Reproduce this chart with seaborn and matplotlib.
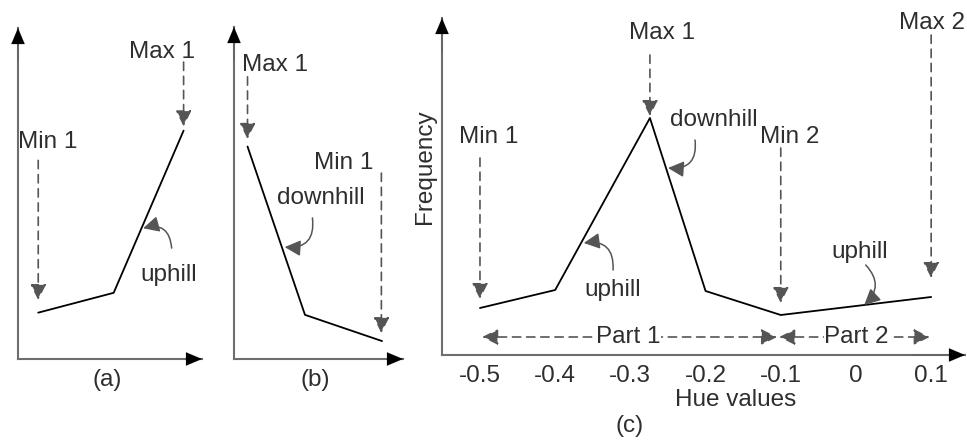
import matplotlib
matplotlib.use("Agg")
import matplotlib.pyplot as plt
import seaborn as sns
import pandas as pd

# ---------------- data ----------------
# panel (a): concave-up curve (uphill)
a_x = [1.1, 5.2, 9.0]
a_y = [1.4, 2.0, 6.9]
# panel (b): downhill curve
b_x = [0.8, 4.2, 8.76]
b_y = [6.4, 1.33, 0.54]
# panel (c): hue histogram sketch
hue_values = [-0.5, -0.4, -0.274, -0.2, -0.1, 0.1]
frequency = [4.7, 6.5, 23.7, 6.4, 4.0, 5.8]
c_ticks = [-0.5, -0.4, -0.3, -0.2, -0.1, 0.0, 0.1]
c_tick_labels = ["-0.5", "-0.4", "-0.3", "-0.2", "-0.1", "0", "0.1"]

sns.set_theme(style="white")
plt.rcParams["font.family"] = ["Liberation Sans", "DejaVu Sans"]
plt.rcParams["axes.unicode_minus"] = False

W, H = 967, 440
fig = plt.figure(figsize=(W / 100, H / 100), dpi=100)

TXT = "#2e2e2e"
AX_COL = "#6e6e6e"
DASH_COL = "#7a7a7a"
HEAD_COL = "#555555"
FS = 17.5


def px_axes(x0, x1, y_top, y_bot):
    return fig.add_axes([x0 / W, 1 - y_bot / H, (x1 - x0) / W, (y_bot - y_top) / H])


def style_axes(ax):
    for s in ["top", "right"]:
        ax.spines[s].set_visible(False)
    for s in ["left", "bottom"]:
        ax.spines[s].set_color(AX_COL)
        ax.spines[s].set_linewidth(1.5)
    ax.tick_params(length=0)
    hp = dict(arrowstyle="-|>,head_length=0.95,head_width=0.4", color="black",
              lw=0.1, shrinkA=0, shrinkB=0, mutation_scale=12)
    ax.annotate("", xy=(0, 1), xytext=(0, 0.9), xycoords="axes fraction",
                arrowprops=hp, annotation_clip=False)
    ax.annotate("", xy=(1, 0), xytext=(0.9, 0), xycoords="axes fraction",
                arrowprops=hp, annotation_clip=False)


def dashed_arrow(ax, x, y_from, y_to):
    ax.annotate("", xy=(x, y_to), xytext=(x, y_from),
                arrowprops=dict(arrowstyle="-|>,head_length=0.8,head_width=0.4",
                                color=DASH_COL, fc=HEAD_COL, ec=HEAD_COL, lw=1.2,
                                linestyle=(0, (5, 3.5)), shrinkA=0, shrinkB=0,
                                mutation_scale=12),
                annotation_clip=False)


def curved_arrow(ax, start, end, rad):
    ax.annotate("", xy=end, xytext=start,
                arrowprops=dict(arrowstyle="-|>,head_length=0.8,head_width=0.4",
                                color="#555555", lw=1.1, shrinkA=0, shrinkB=0,
                                mutation_scale=12,
                                connectionstyle=f"arc3,rad={rad}"),
                annotation_clip=False)


def label(ax, x, y, s):
    ax.text(x, y, s, fontsize=FS, color=TXT, ha="center", va="center")


# ---------------- panel (a) ----------------
ax_a = px_axes(18, 202, 28, 359)
style_axes(ax_a)
sns.lineplot(x=a_x, y=a_y, ax=ax_a, color="black", lw=1.3, sort=False)
ax_a.set_xlim(0, 10)
ax_a.set_ylim(0, 10)
ax_a.set_xticks([])
ax_a.set_yticks([])
label(ax_a, 1.6, 6.55, "Min 1")
dashed_arrow(ax_a, a_x[0], 6.0, 1.78)
label(ax_a, 7.85, 9.27, "Max 1")
dashed_arrow(ax_a, a_x[2], 8.97, 7.03)
label(ax_a, 8.2, 2.55, "uphill")
curved_arrow(ax_a, (8.35, 3.35), (6.8, 3.95), 0.6)
ax_a.set_xlabel("(a)", fontsize=FS, color=TXT)
ax_a.xaxis.set_label_coords(0.484, -0.063)
ax_a.xaxis.label.set_va("center")

# ---------------- panel (b) ----------------
ax_b = px_axes(234, 403, 27, 359)
style_axes(ax_b)
sns.lineplot(x=b_x, y=b_y, ax=ax_b, color="black", lw=1.3, sort=False)
ax_b.set_xlim(0, 10)
ax_b.set_ylim(0, 10)
ax_b.set_xticks([])
ax_b.set_yticks([])
label(ax_b, 2.43, 8.85, "Max 1")
dashed_arrow(ax_b, b_x[0], 8.5, 6.63)
label(ax_b, 6.5, 5.9, "Min 1")
dashed_arrow(ax_b, 8.72, 5.6, 0.78)
label(ax_b, 5.15, 4.85, "downhill")
curved_arrow(ax_b, (4.64, 4.25), (3.0, 3.37), -0.6)
ax_b.set_xlabel("(b)", fontsize=FS, color=TXT)
ax_b.xaxis.set_label_coords(0.479, -0.063)
ax_b.xaxis.label.set_va("center")

# ---------------- panel (c) ----------------
ax_c = px_axes(442, 965, 18, 355)
style_axes(ax_c)
df = pd.DataFrame({"Hue values": hue_values, "Frequency": frequency})
sns.lineplot(data=df, x="Hue values", y="Frequency", ax=ax_c, color="black",
             lw=1.3, sort=False)
ax_c.set_xlim(-0.5505, 0.1450)
ax_c.set_ylim(0, 33.7)
ax_c.set_yticks([])
ax_c.set_xticks(c_ticks)
ax_c.set_xticklabels(c_tick_labels, fontsize=FS, color=TXT)
ax_c.tick_params(axis="x", pad=7)
ax_c.set_xlabel("Hue values", fontsize=FS, color=TXT)
ax_c.xaxis.set_label_coords(0.562, -0.134)
ax_c.xaxis.label.set_va("center")
ax_c.set_ylabel("Frequency", fontsize=FS, color=TXT)
ax_c.yaxis.set_label_coords(-0.0325, 0.56)
ax_c.yaxis.label.set_va("center")
ax_c.text(0.359, -0.21, "(c)", transform=ax_c.transAxes, fontsize=FS,
          color=TXT, ha="center", va="center")

label(ax_c, -0.489, 21.8, "Min 1")
dashed_arrow(ax_c, hue_values[0], 19.7, 5.6)
label(ax_c, -0.258, 32.2, "Max 1")
dashed_arrow(ax_c, hue_values[2], 30.0, 23.9)
label(ax_c, -0.088, 21.8, "Min 2")
dashed_arrow(ax_c, hue_values[4], 20.7, 5.2)
label(ax_c, 0.101, 33.2, "Max 2")
dashed_arrow(ax_c, hue_values[5], 32.0, 7.7)

label(ax_c, -0.189, 23.5, "downhill")
curved_arrow(ax_c, (-0.214, 21.5), (-0.250, 18.7), -0.6)
label(ax_c, -0.324, 6.5, "uphill")
curved_arrow(ax_c, (-0.323, 8.5), (-0.362, 11.2), 0.6)
label(ax_c, 0.005, 10.3, "uphill")
curved_arrow(ax_c, (0.013, 9.0), (0.011, 5.0), -0.5)

# Part arrows
part_props = dict(arrowstyle="<|-|>,head_length=0.8,head_width=0.4",
                  color=DASH_COL, fc=HEAD_COL, ec=HEAD_COL, lw=1.2,
                  linestyle=(0, (5, 3.5)), shrinkA=0, shrinkB=0, mutation_scale=12)
ax_c.annotate("", xy=(-0.105, 1.8), xytext=(-0.497, 1.8), arrowprops=part_props)
ax_c.annotate("", xy=(0.098, 1.8), xytext=(-0.102, 1.8), arrowprops=part_props)
ax_c.text(-0.303, 1.8, "Part 1", fontsize=FS, color=TXT, ha="center", va="center",
          bbox=dict(fc="white", ec="none", pad=0.5), zorder=5)
ax_c.text(0.001, 1.8, "Part 2", fontsize=FS, color=TXT, ha="center", va="center",
          bbox=dict(fc="white", ec="none", pad=0.5), zorder=5)

fig.savefig("out.png", dpi=100)
